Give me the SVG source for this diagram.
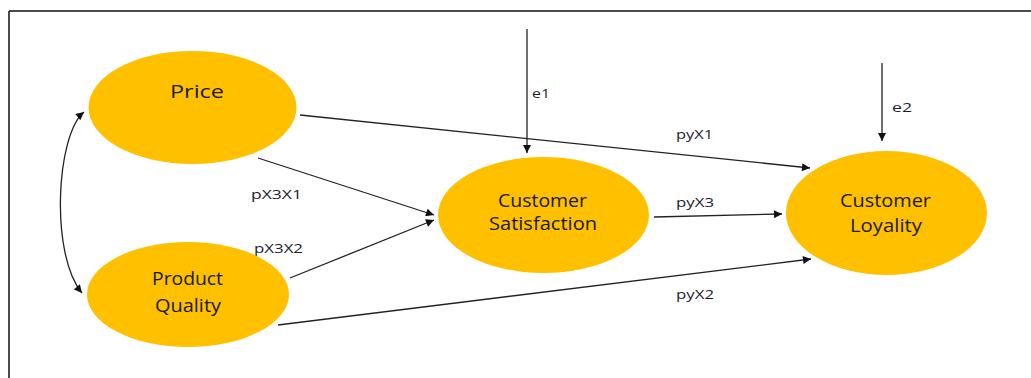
<svg xmlns="http://www.w3.org/2000/svg" width="1031" height="378" viewBox="0 0 1031 378">
<style>
.node{fill:#FFC000;}
.nt{font-family:"Open Sans","Liberation Sans",sans-serif;font-size:18px;fill:#1a1a1a;text-anchor:middle;}
.lt{font-family:"Open Sans","Liberation Sans",sans-serif;font-size:13px;fill:#1e1e2a;}
.c{stroke:#222;stroke-width:1.3;fill:none;marker-end:url(#ah);}
</style>
<defs>
<marker id="ah" viewBox="0 0 10 10" refX="10" refY="5" markerWidth="9" markerHeight="8" markerUnits="userSpaceOnUse" orient="auto-start-reverse">
<path d="M0,0 L10,5 L0,10 Z" fill="#111"/>
</marker>
</defs>
<rect width="1031" height="378" fill="#fff"/>
<g id="frame" stroke="#111" stroke-width="1.5">
<line x1="9" y1="11" x2="1031" y2="11"/>
<line x1="9" y1="11" x2="9" y2="378"/>
</g>
<g id="connectors">
<line class="c" x1="527" y1="29" x2="527" y2="153"/>
<line class="c" x1="882" y1="63" x2="882" y2="141"/>
<line class="c" x1="300" y1="115" x2="810" y2="168"/>
<line class="c" x1="258" y1="158" x2="434" y2="215"/>
<line class="c" x1="290" y1="278" x2="434" y2="220"/>
<line class="c" x1="654" y1="217" x2="782" y2="214"/>
<line class="c" x1="278" y1="325" x2="811" y2="259"/>
<path class="c" style="marker-start:url(#ah)" d="M84,112 C56,135 50,255 82,293"/>
<text class="lt" x="532" y="98" textLength="18" lengthAdjust="spacingAndGlyphs">e1</text>
<text class="lt" x="892" y="112" textLength="20" lengthAdjust="spacingAndGlyphs">e2</text>
<text class="lt" x="676" y="139" textLength="37" lengthAdjust="spacingAndGlyphs">pyX1</text>
<text class="lt" x="676" y="207" textLength="38" lengthAdjust="spacingAndGlyphs">pyX3</text>
<text class="lt" x="676" y="299" textLength="38" lengthAdjust="spacingAndGlyphs">pyX2</text>
<text class="lt" x="251" y="199" textLength="51" lengthAdjust="spacingAndGlyphs">pX3X1</text>
<text class="lt" x="254" y="253" textLength="49" lengthAdjust="spacingAndGlyphs">pX3X2</text>
</g>
<g id="price">
<ellipse class="node" cx="192.5" cy="107.5" rx="104" ry="56.5"/>
<text class="nt" x="197" y="98" textLength="54" lengthAdjust="spacingAndGlyphs">Price</text>
</g>
<g id="product-quality">
<ellipse class="node" cx="188" cy="294.5" rx="101" ry="52.5"/>
<text class="nt" x="187.5" y="285" textLength="71" lengthAdjust="spacingAndGlyphs">Product</text>
<text class="nt" x="188" y="312" textLength="66" lengthAdjust="spacingAndGlyphs">Quality</text>
</g>
<g id="customer-satisfaction">
<ellipse class="node" cx="543.5" cy="215" rx="105.5" ry="58"/>
<text class="nt" x="542.5" y="207" textLength="89" lengthAdjust="spacingAndGlyphs">Customer</text>
<text class="nt" x="543" y="230" textLength="108" lengthAdjust="spacingAndGlyphs">Satisfaction</text>
</g>
<g id="customer-loyality">
<ellipse class="node" cx="886.5" cy="213" rx="100.5" ry="62"/>
<text class="nt" x="885.5" y="207" textLength="91" lengthAdjust="spacingAndGlyphs">Customer</text>
<text class="nt" x="886" y="232" textLength="72" lengthAdjust="spacingAndGlyphs">Loyality</text>
</g>
</svg>
